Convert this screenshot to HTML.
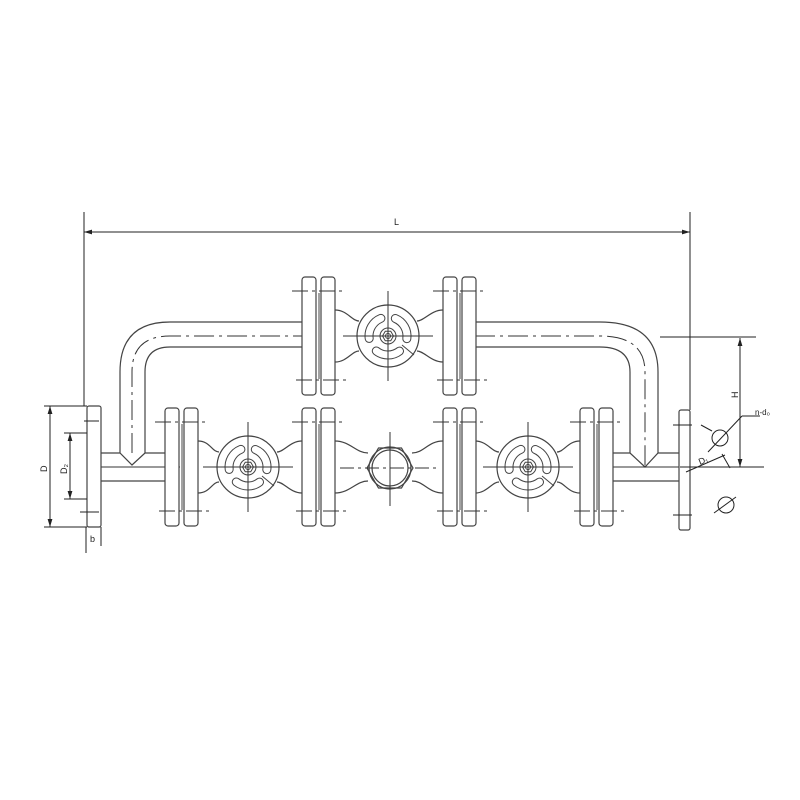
<!DOCTYPE html>
<html><head><style>html,body{margin:0;padding:0;background:#fff}svg{display:block}</style></head><body>
<svg width="800" height="800" viewBox="0 0 800 800" xmlns="http://www.w3.org/2000/svg" font-family="Liberation Sans, sans-serif">
<defs>
<marker id="a" viewBox="0 0 10 10" refX="10" refY="5" markerWidth="8" markerHeight="8" orient="auto-start-reverse"><path d="M0,2 L10,5 L0,8z" fill="#222"/></marker>
<g id="fp">
 <rect x="0" y="0" width="14" height="118" rx="3" fill="#fff" stroke="#444" stroke-width="1.2"/>
 <rect x="19" y="0" width="14" height="118" rx="3" fill="#fff" stroke="#444" stroke-width="1.2"/>
 <line x1="14" y1="14" x2="14" y2="104" stroke="#444"/>
 <line x1="17" y1="16" x2="17" y2="102" stroke="#444"/>
 <line x1="-10" y1="14" x2="43" y2="14" stroke="#333" stroke-dasharray="16,4,3,4"/>
 <line x1="-6" y1="103" x2="46" y2="103" stroke="#333" stroke-dasharray="16,4,3,4"/>
</g>
<path id="slot" d="M8.6,-21.3 A23,23 0 0 1 22.8,3.2 A4,4 0 0 1 14.85,2.09 A15,15 0 0 0 5.6,-13.9 A4,4 0 0 1 8.6,-21.3Z" fill="none" stroke="#444"/>
<g id="wh">
 <circle r="31" fill="#fff" stroke="#444" stroke-width="1.2"/>
 <use href="#slot"/>
 <use href="#slot" transform="rotate(120)"/>
 <use href="#slot" transform="rotate(240)"/>
 <circle r="8" fill="none" stroke="#444"/>
 <polygon points="5.5,0 2.75,4.8 -2.75,4.8 -5.5,0 -2.75,-4.8 2.75,-4.8" fill="none" stroke="#444"/>
 <circle r="2.5" fill="none" stroke="#444"/>
 <line x1="14" y1="9" x2="26" y2="19" stroke="#444"/>
 <line x1="-45" y1="0" x2="45" y2="0" stroke="#333"/>
 <line x1="0" y1="-45" x2="0" y2="45" stroke="#333"/>
</g>
</defs>
<g fill="none" stroke="#444" stroke-width="1.2">
<path d="M120,453 L120,372 Q120,322 170,322 L302,322"/>
<path d="M145,453 L145,372 Q145,347 170,347 L302,347"/>
<path d="M475,322 L600,322 Q658,322 658,372 L658,453"/>
<path d="M475,347 L600,347 Q630,347 630,372 L630,453"/>
<path d="M132,453 L132,372 Q132,336 170,336 L302,336 M475,336 L600,336 Q645,336 645,372 L645,470" stroke="#333" stroke-width="1" stroke-dasharray="20,5,3,5"/>
<path d="M101,453 L120,453 L132,465 L145,453 L165,453 M101,481 L165,481"/>
<path d="M613,453 L630,453 L645,467 L658,453 L679,453 M613,481 L679,481"/>
<line x1="100" y1="467" x2="180" y2="467" stroke="#333" stroke-width="1"/>
<line x1="600" y1="467" x2="690" y2="467" stroke="#333" stroke-width="1"/>
<rect x="87" y="406" width="14" height="121" rx="2" fill="#fff"/>
<rect x="679" y="410" width="11" height="120" rx="2" fill="#fff"/>
<path d="M198,441 C210,441 212,452 219,452 M198,493 C210,493 212,482 219,482"/>
<path d="M302,441 C290,441 284,452 277,452 M302,493 C290,493 284,482 277,482"/>
<path d="M335,441 C350,441 356,453 368,453 M335,493 C350,493 356,481 368,481"/>
<path d="M443,441 C428,441 424,453 412,453 M443,493 C428,493 424,481 412,481"/>
<path d="M475,441 C487,441 492,452 499,452 M475,493 C487,493 492,482 499,482"/>
<path d="M580,441 C568,441 564,452 557,452 M580,493 C568,493 564,482 557,482"/>
<path d="M335,310 C347,310 352,321 359,321 M335,362 C347,362 352,351 359,351"/>
<path d="M443,310 C431,310 424,321 417,321 M443,362 C431,362 424,351 417,351"/>
<circle cx="390" cy="468" r="18"/>
<circle cx="390" cy="468" r="21"/>
<polygon points="413,468 401.5,488 378.5,488 367,468 378.5,448 401.5,448"/>
</g>
<line x1="340" y1="468" x2="440" y2="468" stroke="#333" stroke-dasharray="14,4,3,4"/>
<line x1="390" y1="432" x2="390" y2="506" stroke="#333"/>
<use href="#fp" x="165" y="408"/>
<use href="#fp" x="302" y="408"/>
<use href="#fp" x="443" y="408"/>
<use href="#fp" x="580" y="408"/>
<use href="#fp" x="302" y="277"/>
<use href="#fp" x="443" y="277"/>
<use href="#wh" x="248" y="467"/>
<use href="#wh" x="528" y="467"/>
<use href="#wh" x="388" y="336"/>
<g stroke="#222" stroke-width="1" fill="none">
<line x1="84" y1="212" x2="84" y2="406"/>
<line x1="690" y1="212" x2="690" y2="410"/>
<line x1="84" y1="232" x2="690" y2="232" marker-start="url(#a)" marker-end="url(#a)"/>
<line x1="660" y1="337" x2="756" y2="337"/>
<line x1="680" y1="467" x2="764" y2="467"/>
<line x1="740" y1="338" x2="740" y2="467" marker-start="url(#a)" marker-end="url(#a)"/>
<line x1="44" y1="406" x2="87" y2="406"/>
<line x1="44" y1="527" x2="87" y2="527"/>
<line x1="50" y1="406" x2="50" y2="527" marker-start="url(#a)" marker-end="url(#a)"/>
<line x1="64" y1="433" x2="87" y2="433"/>
<line x1="64" y1="499" x2="87" y2="499"/>
<line x1="70" y1="433" x2="70" y2="499" marker-start="url(#a)" marker-end="url(#a)"/>
<line x1="86" y1="527" x2="86" y2="553"/>
<line x1="101" y1="527" x2="101" y2="546"/>
<line x1="84" y1="421" x2="99" y2="421"/>
<line x1="80" y1="512" x2="99" y2="512"/>
<line x1="673" y1="425" x2="692" y2="425"/>
<line x1="673" y1="515" x2="692" y2="515"/>
<circle cx="720" cy="438" r="8"/>
<circle cx="726" cy="505" r="8"/>
<line x1="708" y1="452" x2="742" y2="416"/>
<line x1="742" y1="416" x2="760" y2="416"/>
<line x1="714" y1="513" x2="736" y2="497"/>
<line x1="686" y1="472" x2="725" y2="455"/>
<line x1="722" y1="454" x2="730" y2="468"/>
<line x1="701" y1="425" x2="712" y2="431"/>
</g>
<g fill="#222" font-size="9">
<text x="394" y="225">L</text>
<text x="755" y="415" font-size="8">n-d₀</text>
<text x="0" y="0" transform="translate(738,398) rotate(-90)">H</text>
<text x="0" y="0" transform="translate(47,472) rotate(-90)">D</text>
<text x="0" y="0" transform="translate(67,474) rotate(-90)">D₂</text>
<text x="0" y="0" transform="translate(700,465) rotate(-22)">D₁</text>
<text x="90" y="542">b</text>
</g>
</svg>
</body></html>
